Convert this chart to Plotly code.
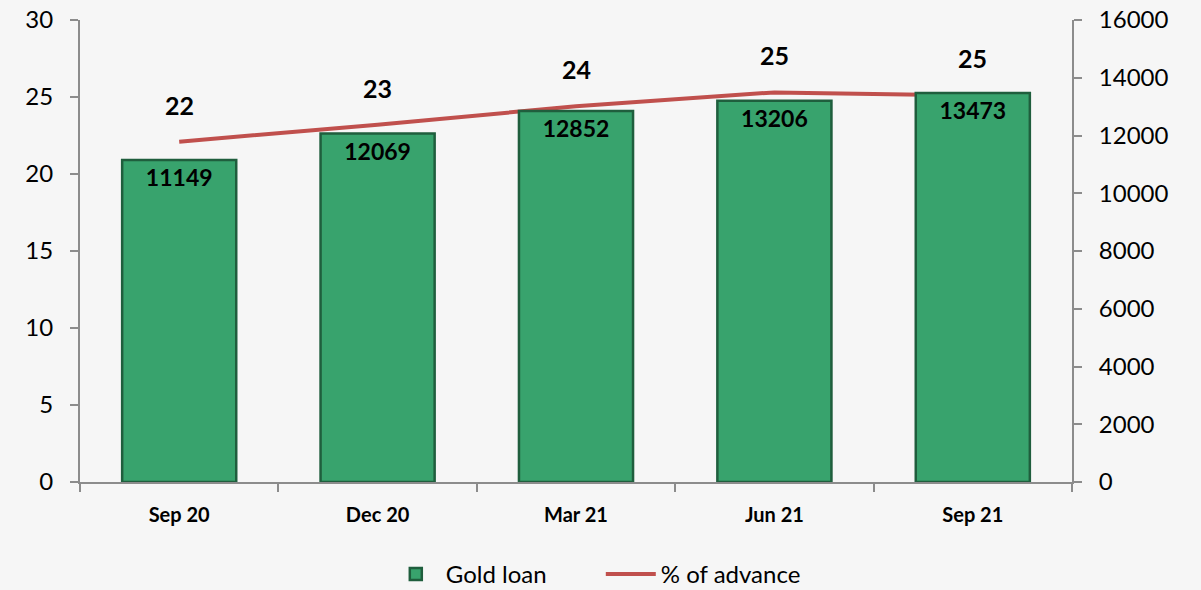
import plotly.graph_objects as go

categories = ["Sep 20", "Dec 20", "Mar 21", "Jun 21", "Sep 21"]
gold_loan = [11149, 12069, 12852, 13206, 13473]
pct_advance = [22.1, 23.2, 24.4, 25.3, 25.1]
pct_labels = ["22", "23", "24", "25", "25"]

FONT = "Lato"

fig = go.Figure()
fig.add_trace(go.Bar(
    x=categories, y=gold_loan, name="Gold loan", yaxis="y2",
    marker=dict(color="#38a36d", line=dict(color="#1f5e3d", width=2.5)),
    width=0.575,
    text=[str(v) for v in gold_loan], textposition="inside", insidetextanchor="end",
    textfont=dict(family=FONT, size=23, color="black", weight="bold"),
    textangle=0,
))
fig.add_trace(go.Scatter(
    x=categories, y=pct_advance, name="% of advance", yaxis="y",
    mode="lines", line=dict(color="#c0504d", width=4),
))
for c, v, t in zip(categories, pct_advance, pct_labels):
    fig.add_annotation(x=c, y=v, xref="x", yref="y", text=f"<b>{t}</b>", showarrow=False,
                       yshift=37, font=dict(family=FONT, size=25, color="black"))

axis_col = "#8c8c8c"
fig.update_layout(
    width=1201, height=590,
    margin=dict(l=80, r=129, t=20, b=108, autoexpand=False),
    paper_bgcolor="#f6f6f6", plot_bgcolor="#f6f6f6",
    font=dict(family=FONT, size=24, color="black"),
    showlegend=True,
    legend=dict(orientation="h", x=0.525, xanchor="center", y=-0.20, yanchor="middle",
                font=dict(family=FONT, size=24), traceorder="normal",
                entrywidth=150, itemwidth=50),
    xaxis=dict(showline=True, linecolor=axis_col, linewidth=2, ticks="outside",
               tickson="boundaries", ticklen=8, tickcolor=axis_col, tickwidth=2,
               tickfont=dict(family=FONT, size=20, color="black", weight="bold"),
               showgrid=False, automargin=False, ticklabelstandoff=14),
    yaxis=dict(range=[0, 30], dtick=5, showline=True, linecolor=axis_col, linewidth=2,
               ticks="outside", ticklen=8, tickcolor=axis_col, tickwidth=2, showgrid=False,
               zeroline=False, tickfont=dict(size=24), automargin=False, ticklabelstandoff=12),
    yaxis2=dict(range=[0, 16000], dtick=2000, overlaying="y", side="right", showline=True,
                linecolor=axis_col, linewidth=2, ticks="outside", ticklen=8, tickcolor=axis_col,
                tickwidth=2, showgrid=False, zeroline=False, tickformat="d",
                tickfont=dict(size=24), automargin=False, ticklabelstandoff=12),
)
fig.write_html("out.html", config={"displayModeBar": False},
               post_script="document.body.style.margin='0';")
